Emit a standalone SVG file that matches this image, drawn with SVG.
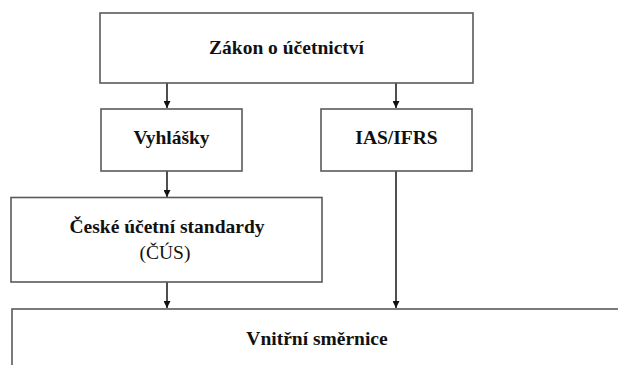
<svg xmlns="http://www.w3.org/2000/svg" width="618" height="365" viewBox="0 0 618 365">
  <style>
    .box { fill: #ffffff; stroke: #5a5a5a; stroke-width: 1.6; }
    text { font-family: 'Liberation Serif', 'Times New Roman', serif; font-size: 19.5px; fill: #111111; text-anchor: middle; }
    .lbl { font-weight: bold; }
    .conn { stroke: #222222; stroke-width: 1.6; fill: none; marker-end: url(#arrow); }
  </style>
  <defs>
    <marker id="arrow" viewBox="0 0 10 10" refX="10" refY="5" markerWidth="7" markerHeight="7" markerUnits="userSpaceOnUse" orient="auto">
      <path d="M0,0 L10,5 L0,10 z" fill="#111111"/>
    </marker>
  </defs>
  <rect width="618" height="365" fill="#ffffff"/>

  <!-- vertical flow arrows between the levels -->
  <g id="connectors">
    <line class="conn" x1="167" y1="83" x2="167" y2="108"/>
    <line class="conn" x1="396" y1="83" x2="396" y2="108"/>
    <line class="conn" x1="167" y1="171" x2="167" y2="197"/>
    <line class="conn" x1="167" y1="282" x2="167" y2="308"/>
    <line class="conn" x1="396" y1="171" x2="396" y2="308"/>
  </g>

  <g id="zakon">
    <rect class="box" x="100" y="13" width="373" height="70"/>
    <text class="lbl" x="286.5" y="54">Zákon o účetnictví</text>
  </g>

  <g id="vyhlasky">
    <rect class="box" x="101" y="109" width="141" height="62"/>
    <text class="lbl" x="171.5" y="144">Vyhlášky</text>
  </g>

  <g id="ifrs">
    <rect class="box" x="321" y="109" width="151" height="62"/>
    <text class="lbl" x="396.5" y="144">IAS/IFRS</text>
  </g>

  <g id="cus">
    <rect class="box" x="11" y="197.5" width="311" height="84.5"/>
    <text class="lbl" x="167" y="233">České účetní standardy</text>
    <text x="165" y="259">(ČÚS)</text>
  </g>

  <!-- bottom box runs past the right and bottom edges -->
  <g id="smernice">
    <rect class="box" x="12" y="309" width="620" height="80"/>
    <text class="lbl" x="317" y="345">Vnitřní směrnice</text>
  </g>
</svg>
